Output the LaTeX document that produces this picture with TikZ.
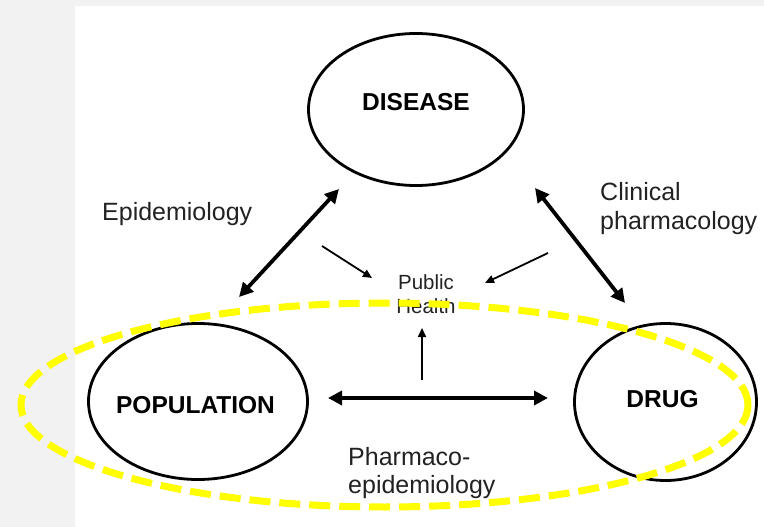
\documentclass[tikz,border=0pt]{standalone}
\usepackage{fontspec}
\setmainfont{Liberation Sans}
\usetikzlibrary{shapes.geometric,arrows.meta}
\definecolor{panelgray}{HTML}{F2F2F2}
\definecolor{inkgray}{HTML}{222222}
\definecolor{hiyellow}{HTML}{FFFF00}
\begin{document}
\begin{tikzpicture}[x=1pt,y=-1pt,
  blob/.style={ellipse,draw=black,line width=2.8pt,inner sep=0pt},
  caps/.style={font=\bfseries\fontsize{24.5}{29}\selectfont,inner sep=0pt},
  field/.style={font=\fontsize{25}{30}\selectfont,text=inkgray,inner sep=0pt,anchor=base west},
  small/.style={font=\fontsize{20.5}{24}\selectfont,text=inkgray,inner sep=0pt,anchor=base},
  link/.style={line width=3.8pt,{Triangle[length=14pt,width=14pt]}-{Triangle[length=14pt,width=14pt]}},
  feed/.style={line width=1.8pt,-{Triangle[length=9pt,width=8pt]}},
  halo/.style={draw=hiyellow,line width=7pt,dash pattern=on 21pt off 9pt}
]
\useasboundingbox (0,0) rectangle (764,527);
% page background and white slide area
\fill[panelgray] (0,0) rectangle (764,527);
\fill[white] (75,6) rectangle (764,527);

% the three domains
\node[blob,minimum width=215pt,minimum height=152pt] (disease) at (416,109.5) {};
\node[blob,minimum width=219pt,minimum height=156pt] (pop) at (198,401.5) {};
\node[blob,minimum width=182pt,minimum height=157pt] (drug) at (665.5,402) {};
\node[caps] (diseasetxt) at (416,102) {DISEASE};
\node[caps] (poptxt) at (195.5,405) {POPULATION};
\node[caps] (drugtxt) at (662.5,399) {DRUG};

% discipline labels
\node[field] (epi) at (102,220) {Epidemiology};
\node[field] (clin1) at (600,200) {Clinical};
\node[field] (clin2) at (600,229) {pharmacology};
\node[field] (pe1) at (348,465) {Pharmaco-};
\node[field] (pe2) at (348,493) {epidemiology};
\node[small] (ph1) at (426,289) {Public};
\node[small] (ph2) at (426,313) {Health};

% arrow end points
\coordinate (epiA) at (239,297);
\coordinate (epiB) at (339,189);
\coordinate (clinA) at (535,188);
\coordinate (clinB) at (625,303);
\coordinate (peA) at (328,398);
\coordinate (peB) at (548,398);
\coordinate (inL) at (322,246);
\coordinate (inLend) at (372,278);
\coordinate (inR) at (548,253);
\coordinate (inRend) at (485,283);
\coordinate (inU) at (422,380);
\coordinate (inUend) at (422,328);

% relations between the domains
\draw[link] (epiA) -- (epiB);
\draw[link] (clinA) -- (clinB);
\draw[link] (peA) -- (peB);

% contributions to public health
\draw[feed] (inL) -- (inLend);
\draw[feed] (inR) -- (inRend);
\draw[feed] (inU) -- (inUend);

% highlighted region
\draw[halo] (384.5,405) ellipse [x radius=363.5pt, y radius=102pt];
\end{tikzpicture}
\end{document}
